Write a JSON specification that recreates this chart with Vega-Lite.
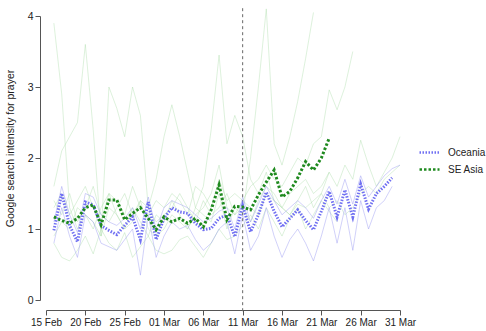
{
  "$schema": "https://vega.github.io/schema/vega-lite/v6.json",
  "width": 354,
  "height": 284,
  "autosize": "none",
  "padding": {"left": 46, "top": 16, "right": 86, "bottom": 31},
  "background": "white",
  "config": {
    "view": {"stroke": null},
    "font": "Liberation Sans",
    "axis": {"domainColor": "#555555", "tickColor": "#555555", "labelColor": "#222222", "titleColor": "#222222", "labelFontSize": 10.5, "titleFontSize": 10.5, "titleFontWeight": "normal", "grid": false, "tickSize": 5}
  },
  "data": {"values": [
    {"d":"2020-02-16T00:00","Oceania":0.98,"SE Asia":1.17,"g1":1.6,"g2":3.9,"g3":1.3,"g4":0.9,"g5":0.8,"g6":1.4,"b1":0.8,"b2":1.1},
    {"d":"2020-02-17T00:00","Oceania":1.50,"SE Asia":1.12,"g1":2.1,"g2":2.9,"g3":1.5,"g4":1.1,"g5":0.6,"g6":1.2,"b1":1.3,"b2":1.6},
    {"d":"2020-02-18T00:00","Oceania":1.05,"SE Asia":1.08,"g1":2.3,"g2":1.3,"g3":1.2,"g4":1.0,"g5":0.55,"g6":1.5,"b1":0.9,"b2":1.2},
    {"d":"2020-02-19T00:00","Oceania":0.82,"SE Asia":1.15,"g1":2.5,"g2":1.0,"g3":1.4,"g4":1.3,"g5":0.7,"g6":1.1,"b1":0.6,"b2":0.95},
    {"d":"2020-02-20T00:00","Oceania":1.38,"SE Asia":1.30,"g1":3.6,"g2":1.2,"g3":1.6,"g4":1.2,"g5":0.9,"g6":1.3,"b1":1.2,"b2":1.5},
    {"d":"2020-02-21T00:00","Oceania":1.34,"SE Asia":1.34,"g1":2.4,"g2":1.1,"g3":1.3,"g4":1.0,"g5":0.65,"g6":1.6,"b1":1.1,"b2":1.45},
    {"d":"2020-02-22T00:00","Oceania":1.05,"SE Asia":1.06,"g1":0.9,"g2":0.9,"g3":1.1,"g4":1.3,"g5":1.0,"g6":1.2,"b1":0.8,"b2":1.2},
    {"d":"2020-02-23T00:00","Oceania":0.98,"SE Asia":1.41,"g1":3.0,"g2":1.3,"g3":1.5,"g4":1.5,"g5":0.8,"g6":1.1,"b1":0.75,"b2":1.1},
    {"d":"2020-02-24T00:00","Oceania":0.92,"SE Asia":1.41,"g1":2.7,"g2":1.2,"g3":1.4,"g4":1.2,"g5":0.7,"g6":1.3,"b1":0.7,"b2":1.05},
    {"d":"2020-02-25T00:00","Oceania":1.05,"SE Asia":1.13,"g1":2.3,"g2":1.0,"g3":1.2,"g4":1.0,"g5":0.95,"g6":1.5,"b1":0.85,"b2":1.15},
    {"d":"2020-02-26T00:00","Oceania":1.17,"SE Asia":1.22,"g1":3.0,"g2":1.1,"g3":1.6,"g4":1.3,"g5":0.6,"g6":1.2,"b1":1.0,"b2":1.3},
    {"d":"2020-02-27T00:00","Oceania":0.85,"SE Asia":1.30,"g1":2.6,"g2":1.4,"g3":1.3,"g4":1.1,"g5":0.75,"g6":1.4,"b1":0.35,"b2":1.0},
    {"d":"2020-02-28T00:00","Oceania":1.38,"SE Asia":1.15,"g1":1.3,"g2":1.0,"g3":1.2,"g4":0.9,"g5":0.9,"g6":1.3,"b1":1.2,"b2":1.45},
    {"d":"2020-02-29T00:00","Oceania":0.85,"SE Asia":0.99,"g1":1.7,"g2":0.9,"g3":1.4,"g4":1.2,"g5":0.7,"g6":1.1,"b1":0.6,"b2":1.0},
    {"d":"2020-03-01T00:00","Oceania":1.15,"SE Asia":1.17,"g1":2.3,"g2":1.0,"g3":1.3,"g4":1.1,"g5":0.65,"g6":1.2,"b1":0.9,"b2":1.3},
    {"d":"2020-03-02T00:00","Oceania":1.30,"SE Asia":1.10,"g1":2.75,"g2":1.2,"g3":1.5,"g4":1.4,"g5":0.7,"g6":1.3,"b1":1.1,"b2":1.4},
    {"d":"2020-03-03T00:00","Oceania":1.24,"SE Asia":1.15,"g1":2.3,"g2":1.1,"g3":1.4,"g4":1.2,"g5":0.85,"g6":1.5,"b1":1.0,"b2":1.35},
    {"d":"2020-03-04T00:00","Oceania":1.22,"SE Asia":1.08,"g1":1.8,"g2":1.0,"g3":1.2,"g4":1.0,"g5":0.9,"g6":1.3,"b1":1.05,"b2":1.3},
    {"d":"2020-03-05T00:00","Oceania":1.08,"SE Asia":1.15,"g1":1.3,"g2":1.3,"g3":1.6,"g4":1.2,"g5":0.75,"g6":1.1,"b1":0.85,"b2":1.2},
    {"d":"2020-03-06T00:00","Oceania":0.99,"SE Asia":1.03,"g1":1.6,"g2":1.2,"g3":1.5,"g4":1.3,"g5":0.6,"g6":1.4,"b1":0.7,"b2":1.1},
    {"d":"2020-03-07T00:00","Oceania":1.01,"SE Asia":1.27,"g1":2.4,"g2":1.1,"g3":1.3,"g4":1.5,"g5":0.8,"g6":1.2,"b1":0.8,"b2":1.15},
    {"d":"2020-03-08T00:00","Oceania":1.15,"SE Asia":1.62,"g1":3.45,"g2":1.5,"g3":1.7,"g4":1.9,"g5":1.0,"g6":1.3,"b1":1.0,"b2":1.25},
    {"d":"2020-03-09T00:00","Oceania":1.20,"SE Asia":1.13,"g1":2.2,"g2":1.0,"g3":1.4,"g4":1.3,"g5":0.85,"g6":1.5,"b1":1.1,"b2":1.3},
    {"d":"2020-03-10T00:00","Oceania":0.89,"SE Asia":1.32,"g1":2.6,"g2":1.3,"g3":1.5,"g4":1.2,"g5":0.9,"g6":1.2,"b1":0.65,"b2":1.0},
    {"d":"2020-03-11T00:00","Oceania":1.33,"SE Asia":1.31,"g1":2.3,"g2":1.2,"g3":1.4,"g4":1.3,"g5":1.05,"g6":1.4,"b1":1.2,"b2":1.45},
    {"d":"2020-03-12T00:00","Oceania":0.96,"SE Asia":1.27,"g1":1.7,"g2":2.0,"g3":1.6,"g4":1.1,"g5":1.2,"g6":1.3,"b1":0.7,"b2":1.1},
    {"d":"2020-03-13T00:00","Oceania":1.20,"SE Asia":1.48,"g1":1.5,"g2":3.0,"g3":1.7,"g4":1.4,"g5":1.0,"g6":1.2,"b1":0.9,"b2":1.35},
    {"d":"2020-03-14T00:00","Oceania":1.52,"SE Asia":1.66,"g1":1.8,"g2":4.1,"g3":1.9,"g4":1.6,"g5":1.3,"g6":1.5,"b1":1.3,"b2":1.6},
    {"d":"2020-03-15T00:00","Oceania":1.25,"SE Asia":1.83,"g1":1.4,"g2":2.2,"g3":1.7,"g4":1.5,"g5":1.1,"g6":1.4,"b1":0.9,"b2":1.4},
    {"d":"2020-03-16T00:00","Oceania":1.03,"SE Asia":1.45,"g1":1.3,"g2":1.9,"g3":1.6,"g4":1.3,"g5":0.9,"g6":1.3,"b1":0.6,"b2":1.2},
    {"d":"2020-03-17T00:00","Oceania":1.15,"SE Asia":1.53,"g1":1.5,"g2":2.3,"g3":1.8,"g4":1.2,"g5":1.15,"g6":1.2,"b1":0.85,"b2":1.3},
    {"d":"2020-03-18T00:00","Oceania":1.27,"SE Asia":1.72,"g1":1.6,"g2":2.8,"g3":2.0,"g4":1.4,"g5":1.3,"g6":1.35,"b1":1.0,"b2":1.4},
    {"d":"2020-03-19T00:00","Oceania":1.12,"SE Asia":1.95,"g1":1.7,"g2":3.4,"g3":1.9,"g4":1.6,"g5":1.0,"g6":1.3,"b1":0.8,"b2":1.3},
    {"d":"2020-03-20T00:00","Oceania":0.99,"SE Asia":1.83,"g1":1.5,"g2":4.05,"g3":2.2,"g4":1.3,"g5":1.2,"g6":1.4,"b1":0.55,"b2":1.15},
    {"d":"2020-03-21T00:00","Oceania":1.25,"SE Asia":2.0,"g1":1.6,"g3":2.3,"g4":1.5,"g5":1.4,"g6":1.5,"b1":0.9,"b2":1.4},
    {"d":"2020-03-22T00:00","Oceania":1.53,"SE Asia":2.28,"g1":1.8,"g3":2.96,"g4":1.8,"g5":1.25,"g6":1.3,"b1":1.3,"b2":1.6},
    {"d":"2020-03-23T00:00","Oceania":1.17,"g3":2.68,"g4":1.6,"g5":1.1,"g6":1.4,"b1":0.8,"b2":1.35},
    {"d":"2020-03-24T00:00","Oceania":1.55,"g3":3.0,"g4":1.9,"g6":1.2,"b1":1.3,"b2":1.7},
    {"d":"2020-03-25T00:00","Oceania":1.17,"g3":3.5,"g4":1.7,"g6":1.3,"b1":0.7,"b2":1.35},
    {"d":"2020-03-26T00:00","Oceania":1.63,"g4":2.25,"g6":1.5,"b1":1.4,"b2":1.75},
    {"d":"2020-03-27T00:00","Oceania":1.28,"g4":1.9,"g6":1.6,"b1":1.0,"b2":1.45},
    {"d":"2020-03-28T00:00","Oceania":1.50,"g4":1.6,"g6":1.5,"b1":1.3,"b2":1.6},
    {"d":"2020-03-29T00:00","Oceania":1.60,"g4":1.8,"g6":1.7,"b1":1.4,"b2":1.75},
    {"d":"2020-03-30T00:00","Oceania":1.72,"g4":2.0,"g6":1.8,"b1":1.6,"b2":1.85},
    {"d":"2020-03-31T00:00","g4":2.3,"g6":1.9,"b2":1.9}
  ]},
  "encoding": {
    "x": {"field": "d", "type": "temporal",
      "scale": {"domain": [{"year":2020,"month":2,"date":15},{"year":2020,"month":3,"date":31}], "nice": false},
      "axis": {"title": null, "format": "%d %b", "offset": 10, "labelPadding": 2, "labelFlush": false, "labelOverlap": false, "labelSeparation": 0, "labelFontSize": 10, "labelBound": false,
        "values": [{"year":2020,"month":2,"date":15},{"year":2020,"month":2,"date":20},{"year":2020,"month":2,"date":25},{"year":2020,"month":3,"date":1},{"year":2020,"month":3,"date":6},{"year":2020,"month":3,"date":11},{"year":2020,"month":3,"date":16},{"year":2020,"month":3,"date":21},{"year":2020,"month":3,"date":26},{"year":2020,"month":3,"date":31}]}},
    "y": {"field": "v", "type": "quantitative",
      "scale": {"domain": [0, 4], "nice": false, "zero": false},
      "axis": {"title": "Google search intensity for prayer", "values": [0,1,2,3,4], "format": "d", "offset": 6, "labelPadding": 2, "titlePadding": 12, "titleY": 132}}
  },
  "layer": [
    {
      "transform": [{"fold": ["g1","g2","g3","g4","g5","g6"], "as": ["s","v"]}],
      "mark": {"type": "line", "color": "#9fd69a", "strokeWidth": 1, "opacity": 0.35},
      "encoding": {"detail": {"field": "s"}}
    },
    {
      "transform": [{"fold": ["b1","b2"], "as": ["s","v"]}],
      "mark": {"type": "line", "color": "#9a9af2", "strokeWidth": 1, "opacity": 0.45},
      "encoding": {"detail": {"field": "s"}}
    },
    {
      "data": {"values": [{"d": "2020-03-11T00:00", "v": 4.11, "v2": -0.17}]},
      "mark": {"type": "rule", "color": "#666666", "strokeWidth": 1, "strokeDash": [3, 3]},
      "encoding": {
        "y2": {"field": "v2"}
      }
    },
    {
      "transform": [{"fold": ["Oceania","SE Asia"], "as": ["region","v"]}],
      "mark": {"type": "line", "strokeWidth": 3},
      "encoding": {
        "color": {"field": "region", "type": "nominal",
          "scale": {"domain": ["Oceania","SE Asia"], "range": ["#7070f2","#1f8a1f"]},
          "legend": {"title": null, "orient": "none", "legendX": 372, "legendY": 125, "symbolType": "stroke", "symbolSize": 400, "symbolStrokeWidth": 2.5, "labelFontSize": 10, "labelColor": "#222222", "rowPadding": -8, "labelOffset": 7}},
        "strokeDash": {"field": "region", "type": "nominal",
          "scale": {"domain": ["Oceania","SE Asia"], "range": [[1.5,1.5],[2.5,2]]},
          "legend": {"title": null, "orient": "none", "legendX": 372, "legendY": 125, "symbolType": "stroke", "symbolSize": 400, "symbolStrokeWidth": 2.5, "labelFontSize": 10, "labelColor": "#222222", "rowPadding": -8, "labelOffset": 7}}
      }
    }
  ]
}
